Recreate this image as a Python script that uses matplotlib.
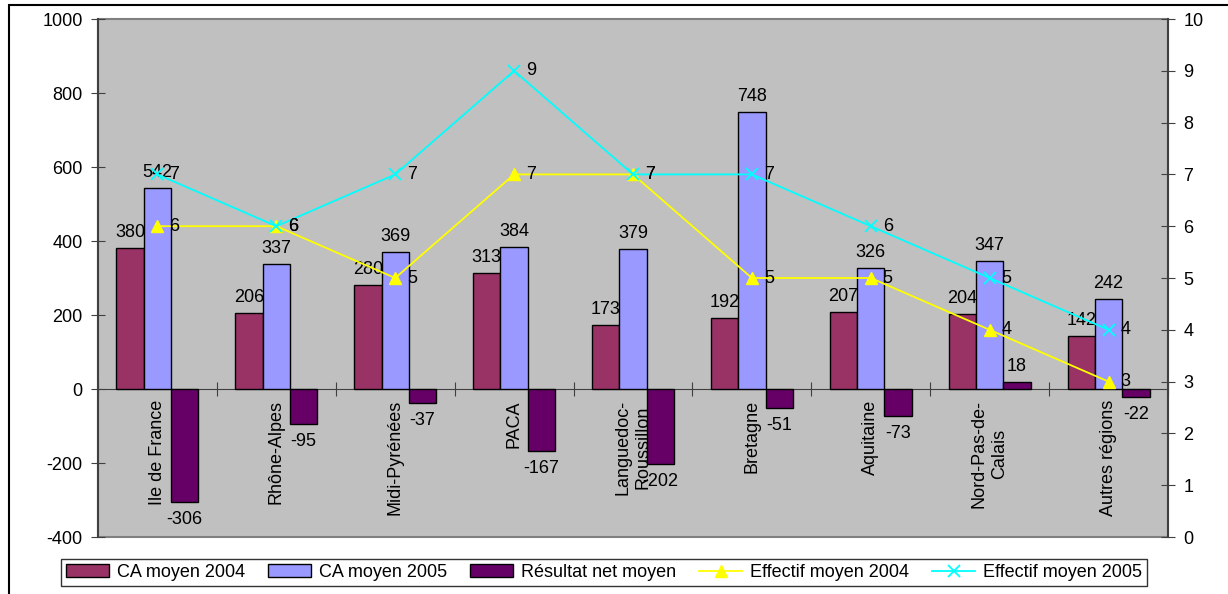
import numpy as np
import matplotlib
matplotlib.use('Agg')
import matplotlib.pyplot as plt
from matplotlib.patches import Rectangle

plt.rcParams['font.family'] = ['Liberation Sans', 'DejaVu Sans']
plt.rcParams['font.size'] = 13
plt.rcParams['axes.unicode_minus'] = False

# data
regions = ['Ile de France', 'Rhône-Alpes', 'Midi-Pyrénées', 'PACA',
           'Languedoc-\nRoussillon', 'Bretagne', 'Aquitaine',
           'Nord-Pas-de-\nCalais', 'Autres régions']
ca_2004 = [380, 206, 280, 313, 173, 192, 207, 204, 142]
ca_2005 = [542, 337, 369, 384, 379, 748, 326, 347, 242]
resultat = [-306, -95, -37, -167, -202, -51, -73, 18, -22]
eff_2004 = [6, 6, 5, 7, 7, 5, 5, 4, 3]
eff_2005 = [7, 6, 7, 9, 7, 7, 6, 5, 4]

c_2004 = '#993366'
c_2005 = '#9999FF'
c_res = '#660066'
c_e04 = '#FFFF00'
c_e05 = '#00FFFF'

fig = plt.figure(figsize=(12.28, 5.94), dpi=100)
ax = fig.add_axes([98 / 1228, 1 - 537 / 594, 1070 / 1228, 518 / 594])
ax.set_facecolor('#C0C0C0')
ax.patch.set_edgecolor('#808080')
ax.patch.set_linewidth(1.5)

x = np.arange(len(regions))
w = 0.23
b1 = ax.bar(x - w, ca_2004, w, color=c_2004, edgecolor='black', lw=1, label='CA moyen 2004', zorder=3)
b2 = ax.bar(x, ca_2005, w, color=c_2005, edgecolor='black', lw=1, label='CA moyen 2005', zorder=3)
b3 = ax.bar(x + w, resultat, w, color=c_res, edgecolor='black', lw=1, label='Résultat net moyen', zorder=3)

# value labels on bars
for xs, vals in ((x - w, ca_2004), (x, ca_2005), (x + w, resultat)):
    for xi, v in zip(xs, vals):
        if v >= 0:
            ax.annotate(str(v), (xi, v), xytext=(0, 11), textcoords='offset pixels',
                        ha='center', va='baseline', zorder=5)
        else:
            ax.annotate(str(v), (xi, v), xytext=(0, -9), textcoords='offset pixels',
                        ha='center', va='top', zorder=5)

# category labels, rotated, inside the plot below zero
for xi, name in zip(x, regions):
    ax.annotate(name, (xi, 0), xytext=(0, -11), textcoords='offset pixels',
                rotation=90, ha='center', va='top', multialignment='center',
                linespacing=1.3, zorder=5)

ax.set_xlim(-0.5, len(regions) - 0.5)
ax.set_ylim(-400, 1000)
ax.set_yticks(np.arange(-400, 1001, 200))
ax.set_xticks(np.arange(len(regions) + 1) - 0.5)
ax.tick_params(axis='x', direction='inout', length=10, labelbottom=False, color='#404040')
ax.tick_params(axis='y', direction='inout', length=10, pad=6, color='#404040')
ax.spines['bottom'].set_position(('data', 0))
ax.spines['bottom'].set_color('#404040')
ax.spines['left'].set_color('#404040')
ax.spines['left'].set_linewidth(1.5)
ax.spines['top'].set_visible(False)
ax.spines['right'].set_visible(False)

ax2 = ax.twinx()
l1, = ax2.plot(x, eff_2004, color=c_e04, lw=1.3, marker='^', ms=8, label='Effectif moyen 2004', zorder=4)
l2, = ax2.plot(x, eff_2005, color=c_e05, lw=1.3, marker='x', ms=8, mew=1.3, label='Effectif moyen 2005', zorder=4)
for vals in (eff_2004, eff_2005):
    for xi, v in zip(x, vals):
        ax2.annotate(str(v), (xi, v), xytext=(12, 0), textcoords='offset pixels',
                     ha='left', va='center', zorder=6)
ax2.set_ylim(0, 10)
ax2.set_yticks(np.arange(0, 11, 1))
ax2.tick_params(axis='y', direction='inout', length=10, pad=6, color='#404040')
for s in ('top', 'bottom', 'left'):
    ax2.spines[s].set_visible(False)
ax2.spines['right'].set_color('#404040')
ax2.spines['right'].set_linewidth(1.5)

leg = fig.legend(handles=[b1, b2, b3, l1, l2], loc='center', ncol=5,
                 bbox_to_anchor=(604 / 1228, 1 - 572.5 / 594), frameon=True,
                 fancybox=False, edgecolor='black', handlelength=2.4,
                 handletextpad=0.45, columnspacing=1.25, borderpad=0.25, numpoints=1)
leg.get_frame().set_linewidth(1)

# outer chart border
fig.patches.append(Rectangle((9 / 1228, -0.1), 1.2, 1.1 - 5 / 594, transform=fig.transFigure,
                             fill=False, edgecolor='black', lw=1.5))

fig.savefig('out.png', dpi=100)
